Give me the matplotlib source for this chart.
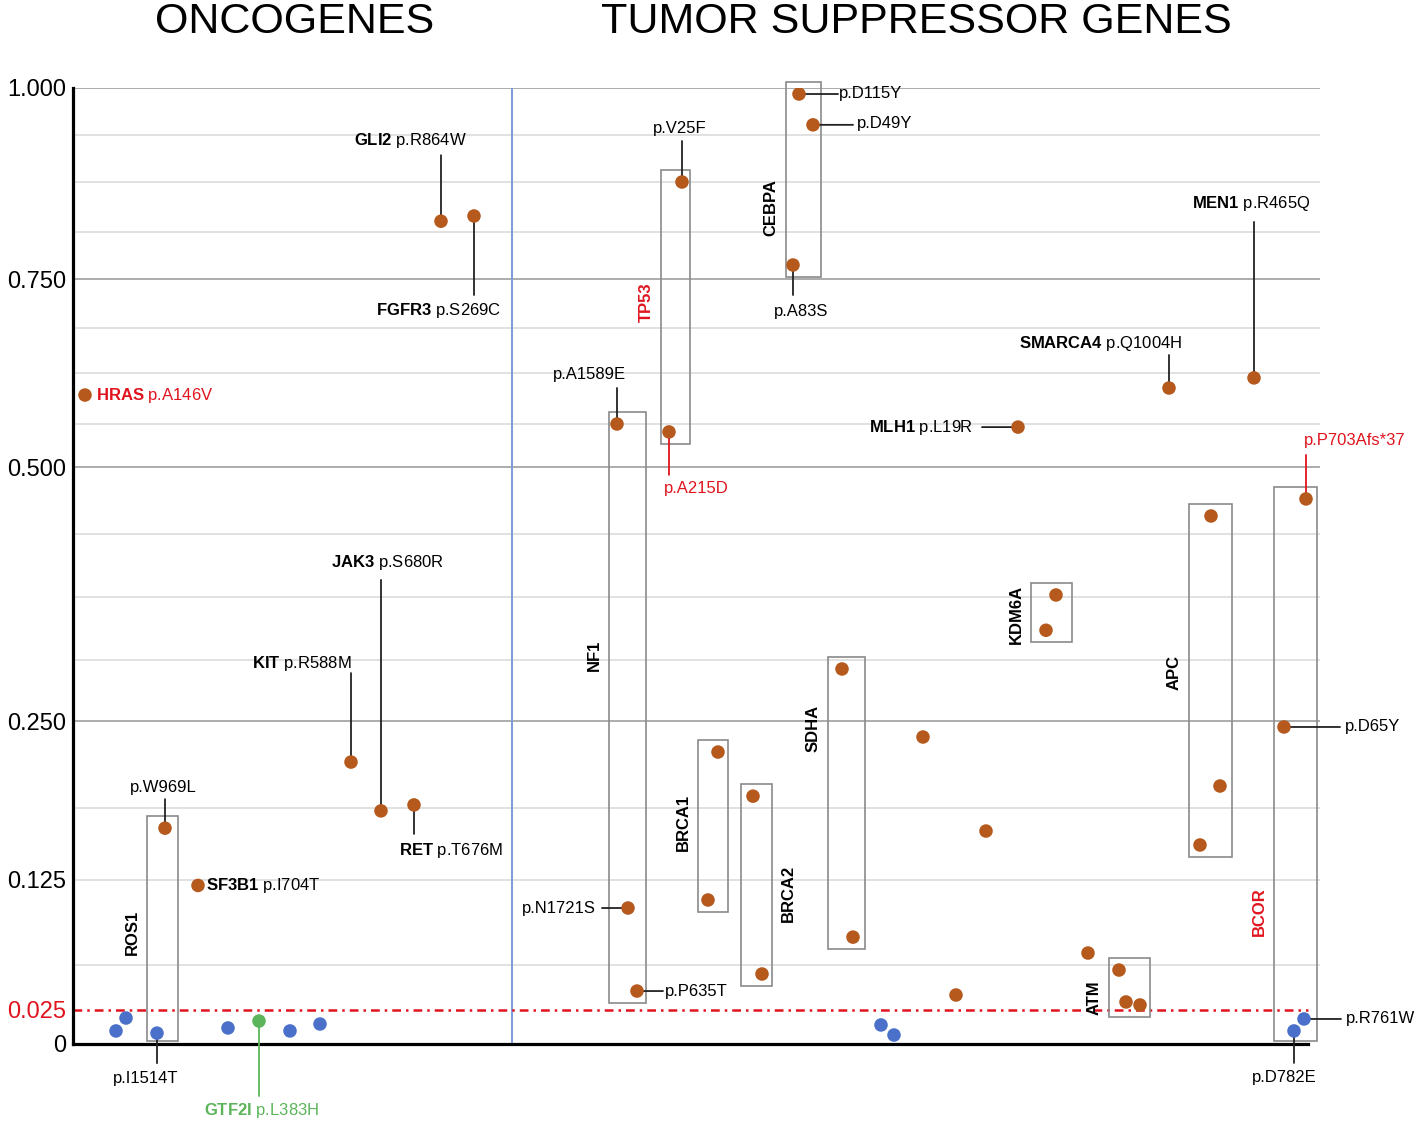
import numpy as np
import matplotlib.pyplot as plt
from matplotlib.patches import Rectangle

plt.rcParams['font.family'] = 'Liberation Sans'
plt.rcParams['mathtext.fontset'] = 'custom'
plt.rcParams['mathtext.rm'] = 'Liberation Sans'
plt.rcParams['mathtext.bf'] = 'Liberation Sans:bold'

# ---- data ----
# oncogenes (left panel)
onco_gene = ['HRAS', 'GLI2', 'FGFR3', 'JAK3', 'KIT', 'RET', 'ROS1', 'ROS1', 'SF3B1',
             '', '', '', '', '', 'GTF2I']
onco_mut = ['p.A146V', 'p.R864W', 'p.S269C', 'p.S680R', 'p.R588M', 'p.T676M', 'p.W969L',
            'p.I1514T', 'p.I704T', '', '', '', '', '', 'p.L383H']
onco_x = [85, 441, 474, 381, 351, 414, 165, 157, 198, 116, 126, 228, 290, 320, 259]
onco_val = [0.598, 0.826, 0.8325, 0.185, 0.2205, 0.1897, 0.170, 0.008, 0.121,
            0.0096, 0.0191, 0.0118, 0.0096, 0.0147, 0.0169]

# tumor suppressor genes (right panel)
tsg_gene = ['NF1', 'NF1', 'NF1', 'TP53', 'TP53', 'CEBPA', 'CEBPA', 'CEBPA',
            'MLH1', 'SMARCA4', 'MEN1', 'BRCA1', 'BRCA1', 'BRCA2', 'BRCA2',
            'SDHA', 'SDHA', '', '', '', '', '', '', 'KDM6A', 'KDM6A',
            'ATM', 'ATM', 'ATM', 'APC', 'APC', 'APC', 'BCOR', 'BCOR', 'BCOR', 'BCOR']
tsg_mut = ['p.A1589E', 'p.N1721S', 'p.P635T', 'p.V25F', 'p.A215D', 'p.D115Y', 'p.D49Y',
           'p.A83S', 'p.L19R', 'p.Q1004H', 'p.R465Q', '', '', '', '', '', '', '', '', '',
           '', '', '', '', '', '', '', '', '', '', '',
           'p.P703Afs*37', 'p.D65Y', 'p.R761W', 'p.D782E']
tsg_x = [617, 628, 637, 682, 669, 799, 813, 793, 1018, 1169, 1254, 718, 708, 753, 762,
         842, 853, 923, 986, 956, 1088, 881, 894, 1056, 1046, 1119, 1126, 1140,
         1211, 1220, 1200, 1306, 1284, 1304, 1294]
tsg_val = [0.5625, 0.1044, 0.0408, 0.875, 0.551, 0.992, 0.951, 0.7686, 0.558, 0.6066,
           0.619, 0.2277, 0.1103, 0.196, 0.055, 0.3033, 0.083, 0.2385, 0.1675, 0.0375,
           0.0713, 0.014, 0.0066, 0.377, 0.342, 0.0583, 0.0317, 0.0292, 0.4543, 0.2033,
           0.1554, 0.4702, 0.2457, 0.0184, 0.0096]

THRESHOLD = 0.025
SPLIT_X = 512
ytick_vals = [0, 0.025, 0.125, 0.25, 0.5, 0.75, 1.0]
ytick_labels = ['0', '0.025', '0.125', '0.250', '0.500', '0.750', '1.000']
grid_dark = [0.25, 0.5, 0.75, 1.0]
grid_light = [0.0625, 0.125, 0.1875, 0.3125, 0.375, 0.4375, 0.5625, 0.625, 0.6875,
              0.8125, 0.875, 0.9375]

labelled_genes = ['HRAS', 'GLI2', 'FGFR3', 'JAK3', 'KIT', 'RET', 'SF3B1', 'GTF2I',
                  'MLH1', 'SMARCA4', 'MEN1']
red_labels = ['p.A146V', 'p.A215D', 'p.P703Afs*37']
boxed = ['ROS1', 'NF1', 'TP53', 'CEBPA', 'BRCA1', 'BRCA2', 'SDHA', 'KDM6A', 'ATM', 'APC', 'BCOR']
red_boxes = ['TP53', 'BCOR']

# ---- layout ----
# label offsets in pixels: text dx, dy, alignment, leader line end (dx, dy)
layout = {
    'p.A146V': (11, 0, 'left', None),
    'p.R864W': (-31, 81, 'center', (0, 66)),
    'p.S269C': (-35, -95, 'center', (0, -79)),
    'p.S680R': (7, 248, 'center', (0, 231)),
    'p.R588M': (-49, 99, 'center', (0, 89)),
    'p.T676M': (37, -46, 'center', (0, -29)),
    'p.W969L': (-2, 41, 'center', (0, 29)),
    'p.I1514T': (-11, -45, 'center', (0, -30)),
    'p.I704T': (8, 0, 'left', None),
    'p.L383H': (3, -89, 'center', (0, -75)),
    'p.A1589E': (-28, 50, 'center', (0, 36)),
    'p.N1721S': (-32, 0, 'right', (-26, 0)),
    'p.P635T': (28, 0, 'left', (26, 0)),
    'p.V25F': (-2, 53, 'center', (0, 41)),
    'p.A215D': (27, -57, 'center', (0, -43)),
    'p.D115Y': (40, 1, 'left', (39, 0)),
    'p.D49Y': (44, 1, 'left', (40, 0)),
    'p.A83S': (8, -46, 'center', (0, -30)),
    'p.L19R': (-45, 0, 'right', (-36, 0)),
    'p.Q1004H': (-68, 45, 'center', (0, 33)),
    'p.R465Q': (-3, 174, 'center', (0, 156)),
    'p.P703Afs*37': (49, 58, 'center', (0, 44)),
    'p.D65Y': (61, 0, 'left', (56, 0)),
    'p.R761W': (42, 0, 'left', (37, 0)),
    'p.D782E': (-10, -47, 'center', (0, -32)),
}
# vertical gene name: y value and side of the box
box_label = {'ROS1': (0.0868, 'left'), 'NF1': (0.3175, 'left'), 'TP53': (0.7207, 'left'),
             'CEBPA': (0.8425, 'left'), 'BRCA1': (0.1753, 'left'), 'BRCA2': (0.1154, 'right'),
             'SDHA': (0.245, 'left'), 'KDM6A': (0.358, 'left'), 'ATM': (0.035, 'left'),
             'APC': (0.2992, 'left'), 'BCOR': (0.1015, 'left')}
# horizontal padding of each box (left, right) in pixels
box_pad = {'ROS1': (10, 13), 'NF1': (8, 9), 'TP53': (8, 8), 'CEBPA': (7, 8),
           'BRCA1': (10, 10), 'BRCA2': (12, 10), 'SDHA': (14, 12), 'KDM6A': (15, 16),
           'ATM': (10, 10), 'APC': (11, 12), 'BCOR': (10, 11)}

BROWN = '#b5591d'
BLUE = '#4a70c9'
GREEN = '#5cb55a'
RED = '#e0141e'

# piecewise y scale (value -> pixel height above baseline)
knot_val = np.array([-0.1, 0, 0.025, 0.0625, 0.125, 0.1875, 0.25, 0.3125, 0.375, 0.4375,
                     0.5, 0.5625, 0.625, 0.6875, 0.75, 0.8125, 0.875, 0.9375, 1.0, 1.1])
knot_pos = np.array([-136, 0, 34, 79, 164, 236, 323, 384, 447, 510, 577, 620, 671, 716,
                     765, 812, 862, 909, 956, 1031])


def fwd(v):
    return np.interp(v, knot_val, knot_pos)


def inv(p):
    return np.interp(p, knot_pos, knot_val)


fig = plt.figure(figsize=(14.19, 11.28), dpi=100)
ax = fig.add_axes([73 / 1419, 1 - 1044 / 1128, (1320 - 73) / 1419, (1044 - 88) / 1128])
ax.set_yscale('function', functions=(fwd, inv))
ax.set_xlim(73, 1320)
ax.set_ylim(0, 1.0)

for g in grid_light:
    ax.axhline(g, color='#dcdcdc', lw=1.2, zorder=0)
for g in grid_dark:
    ax.axhline(g, color='#a6a6a6', lw=1.3, zorder=0)

ax.axvline(SPLIT_X, color='#7c9cd8', lw=1.4, zorder=1)
ax.hlines(THRESHOLD, 73, 1308, color=RED, lw=1.8, linestyle=(0, (3.5, 2, 1, 2)), zorder=1)

ax.set_yticks(ytick_vals)
ax.set_yticklabels(ytick_labels, fontsize=17)
ax.get_yticklabels()[1].set_color(RED)
ax.tick_params(axis='y', length=0, pad=5)
ax.set_xticks([])
ax.spines['top'].set_visible(False)
ax.spines['right'].set_visible(False)
ax.spines['left'].set_linewidth(2.3)
ax.spines['bottom'].set_linewidth(2.3)
ax.spines['bottom'].set_bounds(73, 1308)

genes = onco_gene + tsg_gene
muts = onco_mut + tsg_mut
xs = np.array(onco_x + tsg_x, dtype=float)
vals = np.array(onco_val + tsg_val)

colors = [GREEN if g == 'GTF2I' else (BROWN if v > THRESHOLD else BLUE)
          for g, v in zip(genes, vals)]
ax.scatter(xs, vals, s=95, c=colors, zorder=4, linewidths=0)

# boxes around genes with several variants
for g in boxed:
    idx = [i for i, gg in enumerate(genes) if gg == g]
    pl, pr = box_pad[g]
    x0 = xs[idx].min() - pl
    x1 = xs[idx].max() + pr
    p0 = max(fwd(vals[idx].min()) - 12, 3)
    p1 = fwd(vals[idx].max()) + 12
    y0, y1 = inv(p0), inv(p1)
    ax.add_patch(Rectangle((x0, y0), x1 - x0, y1 - y0, fill=False, ec='#8a8a8a',
                           lw=1.2, zorder=2, clip_on=False))
    yv, side = box_label[g]
    ax.annotate(g, xy=(x0 if side == 'left' else x1, yv),
                xytext=(-15 if side == 'left' else 16, 0), textcoords='offset pixels',
                rotation=90, ha='center', va='center', fontsize=12, fontweight='bold',
                color=RED if g in red_boxes else 'black')

# mutation labels with leader lines
for g, m, x, v in zip(genes, muts, xs, vals):
    if not m:
        continue
    tdx, tdy, ha, line = layout[m]
    col = RED if m in red_labels else (GREEN if g == 'GTF2I' else 'black')
    lcol = RED if m in red_labels else (GREEN if g == 'GTF2I' else '#222222')
    if line is not None:
        ax.annotate('', xy=(x, v), xytext=line, textcoords='offset pixels',
                    arrowprops=dict(arrowstyle='-', color=lcol, lw=1.3,
                                    shrinkA=0, shrinkB=0), zorder=3)
    text = (r'$\mathbf{' + g + '}$ ' + m) if g in labelled_genes else m
    ax.annotate(text, xy=(x, v), xytext=(tdx, tdy), textcoords='offset pixels',
                ha=ha, va='center', fontsize=12, color=col, annotation_clip=False)

fig.text(295 / 1419, 1 - 22 / 1128, 'ONCOGENES', ha='center', va='center', fontsize=31)
fig.text(916 / 1419, 1 - 22 / 1128, 'TUMOR SUPPRESSOR GENES', ha='center', va='center',
         fontsize=31)

fig.savefig('out.png', dpi=100)
